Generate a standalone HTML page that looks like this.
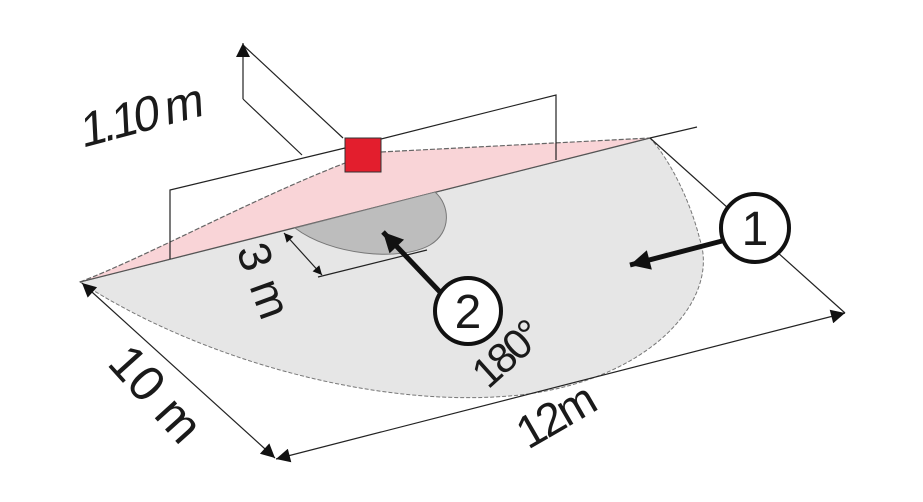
<!DOCTYPE html>
<html><head><style>body{margin:0;background:#fff}svg{display:block}text{font-family:"Liberation Sans",sans-serif;fill:#1a1a1a}</style></head><body>
<svg width="923" height="502" viewBox="0 0 923 502" xmlns="http://www.w3.org/2000/svg">
<defs>
<marker id="ah" viewBox="0 0 10 10" refX="10" refY="5" markerWidth="12" markerHeight="9" orient="auto-start-reverse" markerUnits="userSpaceOnUse"><path d="M0,0 L10,5 L0,10 z" fill="#111"/></marker>
<marker id="ab" viewBox="0 0 10 10" refX="10" refY="5" markerWidth="30" markerHeight="20" orient="auto" markerUnits="userSpaceOnUse"><path d="M0,0 L10,5 L0,10 z" fill="#111"/></marker>
<marker id="am" viewBox="0 0 10 10" refX="10" refY="5" markerWidth="28" markerHeight="14" orient="auto-start-reverse" markerUnits="userSpaceOnUse"><path d="M0,0 L10,5 L0,10 z" fill="#111"/></marker>
</defs>
<path d="M80,282 C200,360 380,410 520,395 C650,380 720,300 700,240 C690,200 670,160 650,138 Z" fill="#e6e6e6" stroke="#777" stroke-width="1" stroke-dasharray="4,2"/>
<path d="M80,282 C150,255 250,200 345,163 L381,152 L650,138 Z" fill="#f9d4d7"/>
<path d="M80,282 C150,255 250,200 345,163" fill="none" stroke="#666" stroke-dasharray="5,2" stroke-width="1.2"/>
<path d="M381,152 L650,138" fill="none" stroke="#666" stroke-dasharray="5,2" stroke-width="1.2"/>
<line x1="80" y1="282" x2="650" y2="138" stroke="#555" stroke-width="1.3"/>
<path d="M295,228 C330,255 400,262 430,245 C452,232 450,205 435,192 Z" fill="#bdbdbd" stroke="#777" stroke-width="1"/>
<g stroke="#222" stroke-width="1.2" fill="none">
<polyline points="170,259 170,190 345,148"/>
<polyline points="381,139 556,95 556,160"/>
<line x1="650" y1="138" x2="697" y2="127"/>
<line x1="243" y1="45" x2="343" y2="138"/>
<line x1="243" y1="99" x2="302" y2="155"/>
<line x1="243" y1="99" x2="243" y2="43" marker-end="url(#am)"/>
<line x1="650" y1="138" x2="845" y2="313"/>
<line x1="276" y1="459" x2="845" y2="313" marker-start="url(#am)" marker-end="url(#am)"/>
<line x1="82" y1="283" x2="275" y2="458" marker-start="url(#am)" marker-end="url(#am)"/>
<line x1="318" y1="277" x2="427" y2="250"/>
<line x1="284" y1="233" x2="322" y2="275" marker-start="url(#ah)" marker-end="url(#ah)"/>
</g>
<rect x="345" y="138" width="36" height="34" fill="#e31e2d" stroke="#333" stroke-width="1"/>
<line x1="440" y1="292" x2="383" y2="232" stroke="#111" stroke-width="5" marker-end="url(#ab)"/>
<line x1="722" y1="241" x2="630" y2="265" stroke="#111" stroke-width="5" marker-end="url(#ab)"/>
<circle cx="468" cy="311" r="33" fill="#fff" stroke="#111" stroke-width="4"/>
<text x="468" y="328" font-size="48" text-anchor="middle">2</text>
<circle cx="755" cy="228" r="34" fill="#fff" stroke="#111" stroke-width="4"/>
<text x="755" y="245" font-size="48" text-anchor="middle">1</text>
<text transform="translate(82,148) rotate(-15) skewX(-12)" font-size="48" letter-spacing="-4">1.10 m</text>
<text transform="translate(236,250) rotate(70)" font-size="46">3 m</text>
<text transform="translate(106,364) rotate(48)" font-size="50">10 m</text>
<text transform="translate(528,450) rotate(-30)" font-size="46" letter-spacing="-3">12m</text>
<text transform="translate(488,390) rotate(-42)" font-size="42" letter-spacing="-3">180°</text>
</svg>
</body></html>
